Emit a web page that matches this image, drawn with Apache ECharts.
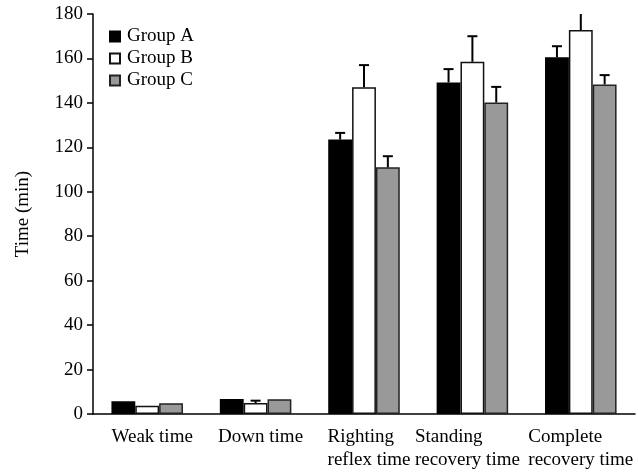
<!DOCTYPE html>
<html>
<head>
<meta charset="utf-8">
<script src="https://cdn.jsdelivr.net/npm/echarts@6/dist/echarts.min.js"></script>
<style>
  html, body { margin: 0; padding: 0; background: #fff; }
  #chart { width: 638px; height: 472px; }
</style>
</head>
<body>
<div id="chart"></div>
<script>
const categories = ['Weak time', 'Down time', 'Righting\nreflex time', 'Standing\nrecovery time', 'Complete\nrecovery time'];
const groupNames = ['Group A', 'Group B', 'Group C'];
const groupA = [5.7, 6.7, 123.5, 149.2, 160.5];
const groupB = [3.7, 4.9, 147, 158.5, 172.8];
const groupC = [4.8, 6.6, 111, 140.2, 148.3];
// upper error bar lengths (0 = none drawn)
const errA = [0, 0, 3, 6, 5];
const errB = [0, 1.1, 10, 11.5, 10];
const errC = [0, 0, 5, 7, 4.2];
const yTicks = [0, 20, 40, 60, 80, 100, 120, 140, 160, 180];

const font = 'Liberation Serif';
const fills = ['#000000', '#ffffff', '#999999'];
const borders = ['#000000', '#111111', '#222222'];
const values = [groupA, groupB, groupC];
const errs = [errA, errB, errC];
// labels in the original sit a little off-centre; r = nudged right, l = nudged left, c = centred
const labelStyleNames = ['r', 'r', 'r', 'l', 'c'];

const chart = echarts.init(document.getElementById('chart'));

const barSeries = groupNames.map((name, i) => ({
    name: name,
    type: 'bar',
    data: values[i],
    barWidth: '22%',
    barGap: '0%',
    itemStyle: { color: fills[i], borderColor: borders[i], borderWidth: 1.5 },
    z: 2
}));

const errSeries = groupNames.map((name, i) => ({
    type: 'custom',
    clip: true,
    z: 3,
    data: values[i].map((v, k) => [k, v, v + errs[i][k], errs[i][k]]),
    renderItem: function (params, api) {
        if (api.value(3) <= 0) return;
        const band = api.size([1, 0])[0];
        const off = (i - 1) * band * 0.22;
        const low = api.coord([api.value(0), api.value(1)]);
        const high = api.coord([api.value(0), api.value(2)]);
        const x = low[0] + off;
        const style = { stroke: '#000', lineWidth: 2 };
        return {
            type: 'group',
            children: [
                { type: 'line', shape: { x1: x, y1: low[1], x2: x, y2: high[1] }, style: style },
                { type: 'line', shape: { x1: x - 5, y1: high[1], x2: x + 5, y2: high[1] }, style: style }
            ]
        };
    }
}));

const labelText = { align: 'left', fontFamily: font, fontSize: 19, lineHeight: 23, color: '#000' };

const option = {
    animation: false,
    textStyle: { fontFamily: font },
    grid: { left: 93, right: 3, top: 14, bottom: 58, containLabel: false },
    legend: {
        data: groupNames,
        orient: 'vertical',
        left: 109,
        top: 27,
        padding: 0,
        itemWidth: 10,
        itemHeight: 10,
        itemGap: 3,
        icon: 'rect',
        textStyle: { fontFamily: font, fontSize: 19, color: '#000', padding: [0, 0, 0, 2] }
    },
    xAxis: {
        type: 'category',
        data: categories,
        axisLine: { lineStyle: { color: '#000', width: 1.5 } },
        axisTick: { length: 7, lineStyle: { color: '#000', width: 1.5 } },
        axisLabel: {
            interval: 0,
            margin: 12,
            color: '#000',
            fontFamily: font,
            fontSize: 19,
            lineHeight: 23,
            formatter: (v, idx) => {
                const s = labelStyleNames[idx];
                return v.split('\n').map(t => '{' + s + '|' + t + '}').join('\n');
            },
            rich: {
                r: Object.assign({ padding: [0, 0, 0, 10] }, labelText),
                l: Object.assign({ padding: [0, 10, 0, 0] }, labelText),
                c: Object.assign({}, labelText)
            }
        }
    },
    yAxis: {
        type: 'value',
        name: 'Time (min)',
        nameLocation: 'middle',
        nameGap: 60,
        nameTextStyle: { fontFamily: font, fontSize: 19, color: '#000' },
        min: yTicks[0],
        max: yTicks[yTicks.length - 1],
        interval: yTicks[1] - yTicks[0],
        splitLine: { show: false },
        axisLine: { show: true, lineStyle: { color: '#000', width: 1.5 } },
        axisTick: { show: true, length: 6, lineStyle: { color: '#000', width: 1.5 } },
        axisLabel: { margin: 10, color: '#000', fontFamily: font, fontSize: 19 }
    },
    series: barSeries.concat(errSeries)
};

chart.setOption(option);
</script>
</body>
</html>
